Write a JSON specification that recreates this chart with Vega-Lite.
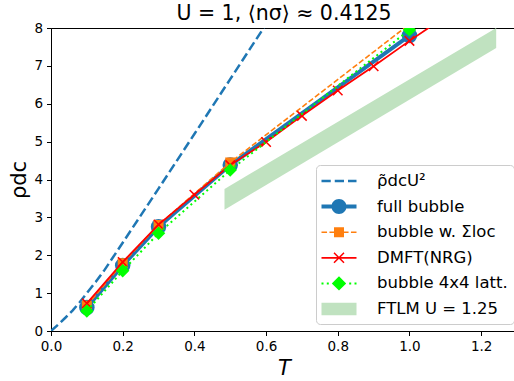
{
  "$schema": "https://vega.github.io/schema/vega-lite/v6.json",
  "width": 466,
  "height": 303,
  "autosize": {"type": "none"},
  "padding": {"left": 51, "top": 28, "right": 0, "bottom": 50},
  "background": "white",
  "title": {
    "text": "U = 1, ⟨nσ⟩ ≈ 0.4125",
    "font": "DejaVu Sans",
    "fontSize": 20.5,
    "fontWeight": "normal",
    "color": "#000",
    "anchor": "middle",
    "offset": -3
  },
  "datasets": {
    "curve": [
      {"series": "ρ̃dcU²", "T": 0.0, "rho": 0.0},
      {"series": "ρ̃dcU²", "T": 0.02, "rho": 0.17},
      {"series": "ρ̃dcU²", "T": 0.04, "rho": 0.35},
      {"series": "ρ̃dcU²", "T": 0.06, "rho": 0.54},
      {"series": "ρ̃dcU²", "T": 0.08, "rho": 0.76},
      {"series": "ρ̃dcU²", "T": 0.1, "rho": 1.0},
      {"series": "ρ̃dcU²", "T": 0.125, "rho": 1.3},
      {"series": "ρ̃dcU²", "T": 0.15, "rho": 1.62},
      {"series": "ρ̃dcU²", "T": 0.2, "rho": 2.33},
      {"series": "ρ̃dcU²", "T": 0.3, "rho": 3.76},
      {"series": "ρ̃dcU²", "T": 0.4, "rho": 5.2},
      {"series": "ρ̃dcU²", "T": 0.5, "rho": 6.65},
      {"series": "ρ̃dcU²", "T": 0.6, "rho": 8.1}
    ],
    "bubble": [
      {"series": "full bubble", "T": 0.1, "rho": 0.62},
      {"series": "full bubble", "T": 0.2, "rho": 1.73},
      {"series": "full bubble", "T": 0.3, "rho": 2.75},
      {"series": "full bubble", "T": 0.5, "rho": 4.38},
      {"series": "full bubble", "T": 1.0, "rho": 7.8}
    ],
    "sigma": [
      {"series": "bubble w. Σloc", "T": 0.1, "rho": 0.67},
      {"series": "bubble w. Σloc", "T": 0.2, "rho": 1.79},
      {"series": "bubble w. Σloc", "T": 0.3, "rho": 2.8},
      {"series": "bubble w. Σloc", "T": 0.5, "rho": 4.45},
      {"series": "bubble w. Σloc", "T": 1.0, "rho": 8.1}
    ],
    "dmft": [
      {"series": "DMFT(NRG)", "T": 0.1, "rho": 0.73},
      {"series": "DMFT(NRG)", "T": 0.2, "rho": 1.82},
      {"series": "DMFT(NRG)", "T": 0.3, "rho": 2.81},
      {"series": "DMFT(NRG)", "T": 0.4, "rho": 3.6},
      {"series": "DMFT(NRG)", "T": 0.5, "rho": 4.38},
      {"series": "DMFT(NRG)", "T": 0.6, "rho": 4.99},
      {"series": "DMFT(NRG)", "T": 0.7, "rho": 5.68},
      {"series": "DMFT(NRG)", "T": 0.8, "rho": 6.35},
      {"series": "DMFT(NRG)", "T": 0.9, "rho": 6.99},
      {"series": "DMFT(NRG)", "T": 1.0, "rho": 7.66},
      {"series": "DMFT(NRG)", "T": 1.1, "rho": 8.3}
    ],
    "latt": [
      {"series": "bubble 4x4 latt.", "T": 0.1, "rho": 0.53},
      {"series": "bubble 4x4 latt.", "T": 0.2, "rho": 1.59},
      {"series": "bubble 4x4 latt.", "T": 0.3, "rho": 2.58},
      {"series": "bubble 4x4 latt.", "T": 0.5, "rho": 4.25},
      {"series": "bubble 4x4 latt.", "T": 1.0, "rho": 7.95}
    ],
    "ftlm": [
      {"series": "FTLM U = 1.25", "T": 0.484, "lo": 3.2, "hi": 3.75},
      {"series": "FTLM U = 1.25", "T": 1.242, "lo": 7.47, "hi": 8.0}
    ]
  },
  "encoding": {
    "x": {
      "field": "T",
      "type": "quantitative",
      "scale": {"domain": [0, 1.3], "nice": false, "zero": false},
      "axis": {
        "values": [0, 0.2, 0.4, 0.6, 0.8, 1.0, 1.2],
        "format": ".1f",
        "title": "T",
        "titleFontStyle": "italic",
        "labelFlush": false
      }
    },
    "y": {
      "field": "rho",
      "type": "quantitative",
      "scale": {"domain": [0, 8], "nice": false},
      "axis": {"values": [0, 1, 2, 3, 4, 5, 6, 7, 8], "format": "d", "title": "ρdc", "labelFlush": false}
    },
    "color": {
      "field": "series",
      "type": "nominal",
      "scale": {
        "domain": ["ρ̃dcU²", "full bubble", "bubble w. Σloc", "DMFT(NRG)", "bubble 4x4 latt.", "FTLM U = 1.25"],
        "range": ["#1f77b4", "#1f77b4", "#ff7f0e", "#ff0000", "#00ff00", "#c0e2c0"]
      },
      "legend": {
        "title": null,
        "orient": "none",
        "legendX": 265,
        "legendY": 137,
        "symbolSize": 400,
        "symbolStrokeWidth": 0,
        "symbolOffset": 7,
        "labelOffset": 28,
        "labelFont": "DejaVu Sans",
        "labelFontSize": 16.5,
        "labelColor": "#000",
        "padding": 6,
        "rowPadding": 6.6,
        "fillColor": "rgba(255,255,255,0.8)",
        "strokeColor": "#cccccc",
        "cornerRadius": 4,
        "symbolOpacity": 1,
        "encode": {
          "symbols": {
            "update": {
              "shape": {
                "signal": "['M-1.75,-0.125H-0.825V0.125H-1.75ZM-0.425,-0.125H0.5V0.125H-0.425ZM0.9,-0.125H1.75V0.125H0.9Z','M-1.75,-0.2H1.75V0.2H-1.75ZM0.75,0A0.75,0.75,0,1,1,-0.75,0A0.75,0.75,0,1,1,0.75,0Z','M-1.75,-0.075H-1.195V0.075H-1.75ZM-0.955,-0.075H-0.4V0.075H-0.955ZM0.4,-0.075H0.955V0.075H0.4ZM1.195,-0.075H1.75V0.075H1.195ZM-0.5,-0.5H0.5V0.5H-0.5Z','M-1.75,-0.085H1.75V0.085H-1.75ZM-0.447,-0.553L0.553,0.447L0.447,0.553L-0.553,-0.447ZM-0.447,0.553L-0.553,0.447L0.447,-0.553L0.553,-0.447Z','M-1.75,-0.1H-1.55V0.1H-1.75ZM-1.22,-0.1H-1.02V0.1H-1.22ZM1.02,-0.1H1.22V0.1H1.02ZM1.55,-0.1H1.75V0.1H1.55ZM0,-0.72L0.72,0L0,0.72L-0.72,0Z','M-1.75,-0.63H1.75V0.63H-1.75Z'][indexof(['ρ̃dcU²','full bubble','bubble w. Σloc','DMFT(NRG)','bubble 4x4 latt.','FTLM U = 1.25'], datum.value)]"
              },
              "size": {"value": 400},
              "fill": {"signal": "scale('color', datum.value)"},
              "stroke": {"value": "transparent"},
              "strokeWidth": {"value": 0},
              "opacity": {"value": 1}
            }
          }
        }
      }
    }
  },
  "layer": [
    {
      "data": {"name": "ftlm"},
      "mark": {"type": "area", "opacity": 1, "clip": true},
      "encoding": {
        "y": {
          "field": "lo",
          "type": "quantitative",
          "axis": {"values": [0, 1, 2, 3, 4, 5, 6, 7, 8], "format": "d", "title": "ρdc", "labelFlush": false}
        },
        "y2": {"field": "hi"}
      }
    },
    {
      "data": {"name": "curve"},
      "mark": {"type": "line", "strokeWidth": 2.5, "strokeDash": [9.25, 4], "clip": true}
    },
    {
      "data": {"name": "bubble"},
      "mark": {"type": "line", "strokeWidth": 4, "clip": true}
    },
    {
      "data": {"name": "bubble"},
      "mark": {"type": "point", "shape": "circle", "filled": true, "size": 240, "opacity": 1, "clip": true}
    },
    {
      "data": {"name": "sigma"},
      "mark": {"type": "line", "strokeWidth": 1.6, "strokeDash": [5.55, 2.4], "clip": true}
    },
    {
      "data": {"name": "sigma"},
      "mark": {"type": "point", "shape": "square", "filled": true, "size": 100, "opacity": 1, "clip": true}
    },
    {
      "data": {"name": "dmft"},
      "mark": {"type": "line", "strokeWidth": 1.8, "clip": true}
    },
    {
      "data": {"name": "dmft"},
      "mark": {"type": "point", "shape": "M-1,-1L1,1M-1,1L1,-1", "filled": false, "size": 90, "strokeWidth": 1.5, "opacity": 1, "clip": true}
    },
    {
      "data": {"name": "latt"},
      "mark": {"type": "line", "strokeWidth": 2, "strokeDash": [2, 3.3], "clip": true}
    },
    {
      "data": {"name": "latt"},
      "mark": {"type": "point", "shape": "diamond", "filled": true, "size": 180, "opacity": 1, "clip": true}
    }
  ],
  "config": {
    "view": {"stroke": "#000", "strokeWidth": 1},
    "axis": {
      "grid": false,
      "labelFont": "DejaVu Sans",
      "labelFontSize": 13.5,
      "labelColor": "#000",
      "domainColor": "#000",
      "domainWidth": 1,
      "tickColor": "#000",
      "tickWidth": 1,
      "tickSize": 4.5,
      "labelPadding": 4,
      "titleFont": "DejaVu Sans",
      "titleFontSize": 21,
      "titleFontWeight": "normal",
      "titleColor": "#000"
    }
  }
}
